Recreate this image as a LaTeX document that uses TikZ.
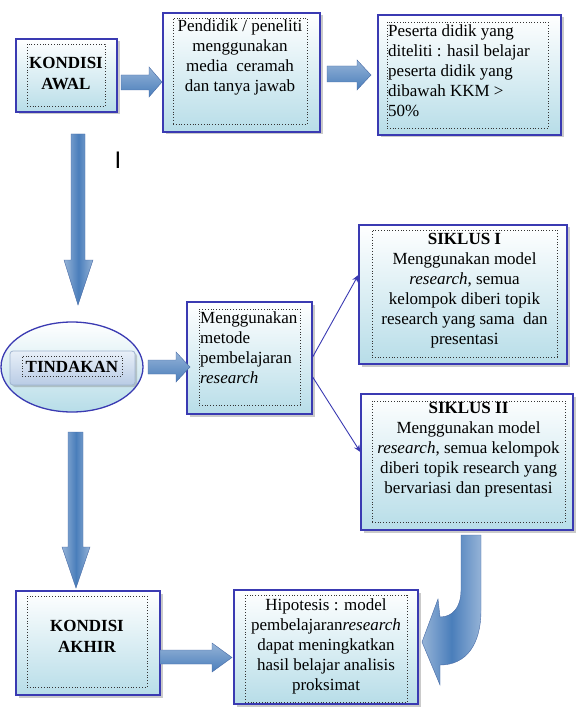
\documentclass[tikz,border=0pt]{standalone}
\usepackage{fontspec}
\setmainfont{Liberation Serif}
\setsansfont{Liberation Sans}
\usetikzlibrary{shadows,shapes.geometric,arrows.meta}
\definecolor{bdr}{RGB}{58,58,178}
\definecolor{fillbot}{RGB}{183,221,232}
\definecolor{arrdark}{RGB}{74,126,187}
\definecolor{arrlight}{RGB}{149,179,215}
\definecolor{arredge}{RGB}{70,105,165}
\definecolor{tindtop}{RGB}{232,239,248}
\definecolor{tindbot}{RGB}{185,204,229}
\definecolor{tindbdr}{RGB}{160,180,208}
\begin{document}
\begin{tikzpicture}[x=1pt,y=-1pt,
  outerbox/.style={draw=bdr, line width=1.3pt, top color=white, bottom color=fillbot,
    drop shadow={shadow xshift=2.5pt, shadow yshift=-2.5pt, opacity=0.35, fill=black!60},
    inner sep=0pt},
  innerbox/.style={draw=black!80, dotted, line width=0.8pt, inner sep=0pt},
  txt/.style={font=\fontsize{17}{20}\selectfont, inner sep=0pt},
  boldtxt/.style={font=\fontsize{17}{21}\selectfont\bfseries, inner sep=0pt, align=center},
  hbar/.style={draw=arredge, line width=0.4pt, top color=arrlight, bottom color=arrdark},
  vbar/.style={draw=arredge, line width=0.4pt, left color=arrlight, right color=arrlight, middle color=arrdark},
  thin/.style={draw=bdr, line width=0.9pt, -{Stealth[length=7pt,width=6pt]}}
]
\useasboundingbox (0,0) rectangle (576,708);

% ---------- KONDISI AWAL ----------
\node[outerbox, minimum width=101pt, minimum height=73pt] (awal) at (66.5,75.5) {};
\node[innerbox, minimum width=78pt, minimum height=62pt] (awali) at (66,75) {};
\node[boldtxt] (awalt) at (66,74) {KONDISI\\AWAL};

% ---------- Pendidik ----------
\node[outerbox, minimum width=157pt, minimum height=119pt] (pend) at (241.5,72.5) {};
\node[innerbox, minimum width=134pt, minimum height=106pt] (pendi) at (240,71) {};
\node[txt, align=center, anchor=north] (pendt) at (240,20)
  {Pendidik / peneliti\\menggunakan\\media \ ceramah\\dan tanya jawab};

% ---------- Peserta ----------
\node[outerbox, minimum width=183pt, minimum height=120pt] (pes) at (469.5,75) {};
\node[innerbox, minimum width=161pt, minimum height=106pt] (pesi) at (467.5,75) {};
\node[txt, align=left, anchor=north west] (pest) at (388,25)
  {Peserta didik yang\\diteliti : hasil belajar\\peserta didik yang\\dibawah KKM >\\50\%};

% ---------- I ----------
\node[inner sep=0pt, font=\fontsize{24}{24}\selectfont\sffamily] (cursor) at (118,160) {I};

% ---------- TINDAKAN ----------
\node[ellipse, draw=bdr, line width=1.3pt, top color=white, bottom color=fillbot,
  minimum width=142pt, minimum height=90pt, inner sep=0pt] (tind) at (72,367) {};
\node[draw=tindbdr, line width=0.8pt, rounded corners=3pt, top color=tindtop, bottom color=tindbot,
  drop shadow={shadow xshift=2pt, shadow yshift=-2pt, opacity=0.3, fill=black!60},
  minimum width=125pt, minimum height=34pt, inner sep=0pt] (tindr) at (72.5,368) {};
\node[innerbox, minimum width=100pt, minimum height=20pt] (tindi) at (72,366) {};
\node[boldtxt] (tindt) at (72,366.5) {TINDAKAN};

% ---------- Menggunakan metode ----------
\node[outerbox, minimum width=125pt, minimum height=112pt] (men) at (249.5,358) {};
\node[innerbox, minimum width=101pt, minimum height=96pt] (meni) at (249.5,357) {};
\node[txt, align=left, anchor=north west] (ment) at (200,312)
  {Menggunakan\\metode\\pembelajaran\\\textit{research}};

% ---------- SIKLUS I ----------
\node[outerbox, minimum width=208pt, minimum height=139pt] (s1) at (463,294.5) {};
\node[innerbox, minimum width=185pt, minimum height=127pt] (s1i) at (464.5,293.5) {};
\node[txt, align=center, anchor=north] (s1t) at (464.5,233)
  {\textbf{SIKLUS I}\\Menggunakan model\\\textit{research}, semua\\kelompok diberi topik\\research yang sama \ dan\\presentasi};

% ---------- SIKLUS II ----------
\node[outerbox, minimum width=212pt, minimum height=136pt] (s2) at (467,462) {};
\node[innerbox, minimum width=193pt, minimum height=121pt] (s2i) at (468.5,461.5) {};
\node[txt, align=center, anchor=north] (s2t) at (468.5,402)
  {\textbf{SIKLUS II}\\Menggunakan model\\\textit{research}, semua kelompok\\diberi topik research yang\\bervariasi dan presentasi};

% ---------- KONDISI AKHIR ----------
\node[outerbox, minimum width=144pt, minimum height=104pt] (akhir) at (88,643) {};
\node[innerbox, minimum width=120pt, minimum height=91pt] (akhiri) at (87,641.5) {};
\node[boldtxt] (akhirt) at (87,636) {KONDISI\\AKHIR};

% ---------- Hipotesis ----------
\node[outerbox, minimum width=184pt, minimum height=114pt] (hip) at (326,647) {};
\node[innerbox, minimum width=162pt, minimum height=107pt] (hipi) at (326,648.5) {};
\node[txt, align=center, anchor=north] (hipt) at (326,598)
  {Hipotesis : model\\pembelajaran\textit{research}\\dapat meningkatkan\\hasil belajar analisis\\proksimat};

% ---------- block arrows ----------
\path[hbar] (121,75) -- (149,75) -- (149,67) -- (162,82) -- (149,97) -- (149,90) -- (121,90) -- cycle;
\path[hbar] (327,66) -- (357,66) -- (357,60) -- (371,75) -- (357,90) -- (357,82) -- (327,82) -- cycle;
\path[hbar] (148,360) -- (176,360) -- (176,352) -- (190,367) -- (176,382) -- (176,374) -- (148,374) -- cycle;
\path[hbar] (160,650) -- (212,650) -- (212,643) -- (232,657.5) -- (212,672) -- (212,664) -- (160,664) -- cycle;
\path[vbar] (71,134) -- (85,134) -- (85,260) -- (93,260) -- (78,305) -- (64,260) -- (71,260) -- cycle;
\path[vbar] (68,432) -- (83,432) -- (83,547) -- (90,547) -- (76,588) -- (62,547) -- (68,547) -- cycle;
% curved arrow
\path[vbar] (461,535) -- (481,535) -- (481,610)
  .. controls (481,645) and (466,665) .. (440,665)
  -- (440,685) -- (422,642) -- (438,599) -- (440,617)
  .. controls (452,617) and (461,608) .. (461,590) -- cycle;

% ---------- thin arrows ----------
\draw[thin] ([yshift=1pt]men.east) -- ([yshift=19.5pt]s1.west);
\draw[thin] ([yshift=-19pt]men.east) -- ([yshift=10pt]s2.west);
\end{tikzpicture}
\end{document}
